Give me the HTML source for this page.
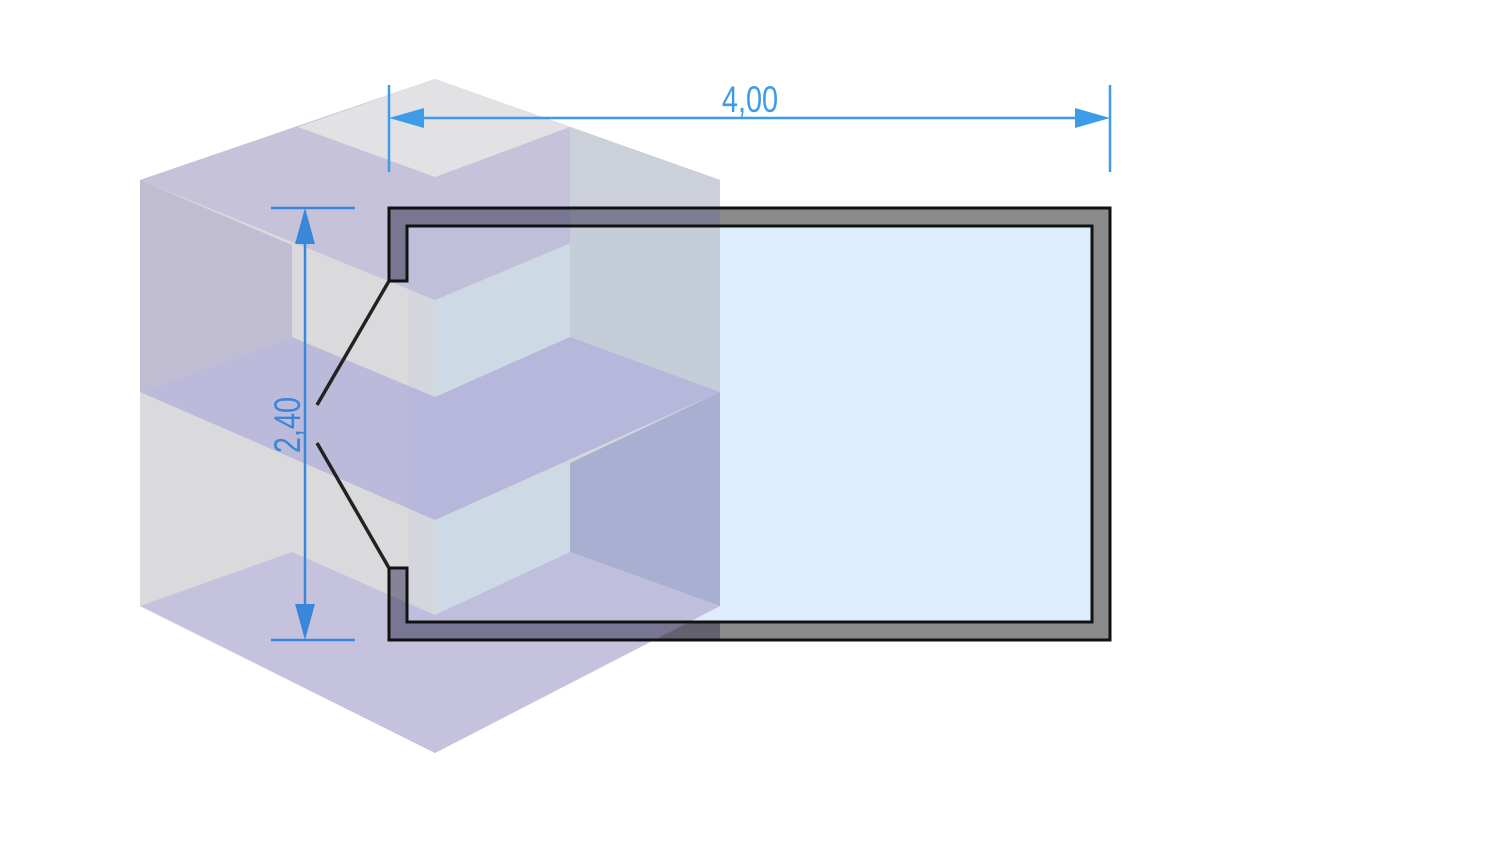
<!DOCTYPE html>
<html><head><style>body{margin:0;background:#fff;}svg{display:block}</style></head><body>
<svg width="1500" height="844" viewBox="0 0 1500 844" xmlns="http://www.w3.org/2000/svg">
<!-- plan -->
<path d="M389,208 H1110 V640 H389 V568 H407 V622 H1092 V226 H407 V281 H389 Z" fill="#8a8a8a" stroke="#111" stroke-width="3"/>
<rect x="408.5" y="227.5" width="682" height="393" fill="#deedfd"/>
<!-- cube -->
<g opacity="0.82">
<polygon points="140,180 435,79 720,180 720,606 435,753 140,606" fill="#d2d2d6"/>
<polygon points="140,180 435,79 720,180 435,300" fill="#b9b5d2"/>
<polygon points="298,127 435,79 570,127 435,177" fill="#dcdcdf"/>
<polygon points="140,180 292,245 292,337 140,392" fill="#b3afc9"/>
<polygon points="570,127 720,180 720,392 570,337" fill="#c0c6d2"/>
<polygon points="435,302 570,245 570,337 435,397" fill="#cad6e2"/>
<polygon points="140,392 292,337 435,397 570,337 720,392 435,520" fill="#aeacd4"/>
<polygon points="570,463 720,392 720,606 570,552" fill="#9ea2c8"/>
<polygon points="435,520 570,463 570,552 435,615" fill="#cad6e2"/>
<polygon points="140,606 292,552 435,615 570,552 720,606 435,753" fill="#b9b5d6"/>
</g>
<!-- plan outline on top -->
<path d="M389,208 H720 V226 H407 V281 H389 Z M389,568 H407 V622 H720 V640 H389 Z" fill="rgba(40,35,70,0.4)"/>
<path d="M389,208 H1110 V640 H389 V568 H407 V622 H1092 V226 H407 V281 H389 Z" fill="none" stroke="#111" stroke-width="3"/>
<line x1="389" y1="281" x2="317" y2="405" stroke="#222" stroke-width="3.5"/>
<line x1="317" y1="443" x2="389" y2="568" stroke="#222" stroke-width="3.5"/>
<!-- dimensions -->
<g stroke="#3d9be9" stroke-width="2.5" fill="#3d9be9">
<line x1="389" y1="85" x2="389" y2="172"/>
<line x1="1110" y1="85" x2="1110" y2="172"/>
<line x1="420" y1="118" x2="1080" y2="118"/>
<polygon points="389,118 424,108 424,128" stroke="none"/>
<polygon points="1110,118 1075,108 1075,128" stroke="none"/>
</g>
<text transform="translate(750,112) scale(0.85,1.1)" font-family="Liberation Sans, sans-serif" font-size="34" fill="#3d9be9" text-anchor="middle">4,00</text>
<g stroke="#3a86d8" stroke-width="2.5" fill="#3a86d8">
<line x1="271" y1="208" x2="355" y2="208"/>
<line x1="271" y1="640" x2="355" y2="640"/>
<line x1="305" y1="235" x2="305" y2="612"/>
<polygon points="305,208 295,244 315,244" stroke="none"/>
<polygon points="305,640 295,604 315,604" stroke="none"/>
</g>
<text transform="translate(300,425) rotate(-90) scale(0.85,1.1)" font-family="Liberation Sans, sans-serif" font-size="34" fill="#3a86d8" text-anchor="middle">2,40</text>
</svg>
</body></html>
